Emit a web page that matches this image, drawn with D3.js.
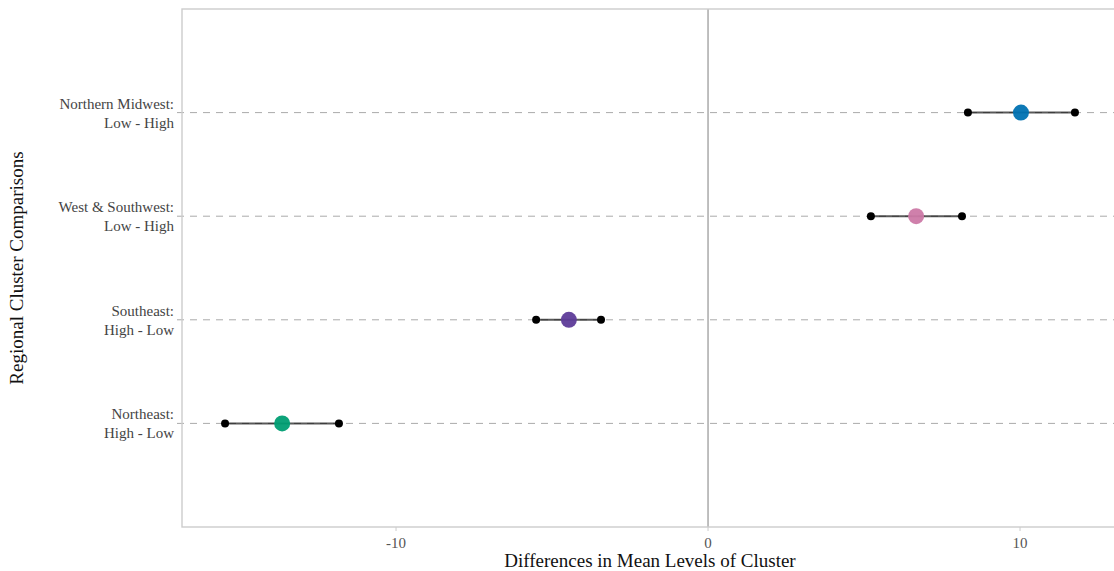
<!DOCTYPE html>
<html>
<head>
<meta charset="utf-8">
<script src="https://cdn.jsdelivr.net/npm/d3@7"></script>
<style>
  body { margin: 0; background: #fff; }
  text { font-family: "Liberation Serif", "DejaVu Serif", serif; }
</style>
</head>
<body>
<svg id="chart"></svg>
<script>
// Data
const labels = [
  ["Northeast:", "High - Low"],
  ["Southeast:", "High - Low"],
  ["West & Southwest:", "Low - High"],
  ["Northern Midwest:", "Low - High"]
];
const means = [-13.65, -4.46, 6.67, 10.03];
const lowers = [-15.48, -5.51, 5.22, 8.33];
const uppers = [-11.83, -3.43, 8.14, 11.76];
const colors = ["#009E73", "#5E3C99", "#CC79A7", "#0072B2"];
const xTicks = [-10, 0, 10];

const width = 1114, height = 571;
const svg = d3.select("#chart").attr("width", width).attr("height", height);

// Panel area
const pLeft = 182, pRight = 1118, pTop = 9, pBottom = 527;

const x = d3.scaleLinear().domain([-16.86, 13.14]).range([pLeft, pRight]);
// positions 1..4 with one unit padding on each side
const y = d3.scaleLinear().domain([0, 5]).range([pBottom, pTop]);

const rows = labels.map((l, i) => ({
  label: l, mean: means[i], lo: lowers[i], hi: uppers[i], color: colors[i], pos: i + 1
}));

// Dashed horizontal guide lines
svg.selectAll(".guide")
  .data(rows)
  .enter()
  .append("line")
  .attr("x1", pLeft - 5)
  .attr("x2", pRight)
  .attr("y1", d => y(d.pos))
  .attr("y2", d => y(d.pos))
  .attr("stroke", "#aaa")
  .attr("stroke-width", 1)
  .attr("stroke-dasharray", "7,6");

// Zero reference line
svg.append("line")
  .attr("x1", x(0)).attr("x2", x(0))
  .attr("y1", pTop).attr("y2", pBottom)
  .attr("stroke", "#aaa")
  .attr("stroke-width", 1.5);

// Panel border
svg.append("rect")
  .attr("x", pLeft).attr("y", pTop)
  .attr("width", pRight - pLeft).attr("height", pBottom - pTop)
  .attr("fill", "none")
  .attr("stroke", "#ccc")
  .attr("stroke-width", 1.4);

// X axis ticks and labels
const xAxis = svg.append("g");
xAxis.selectAll(".tick")
  .data(xTicks)
  .enter()
  .append("line")
  .attr("x1", d => x(d)).attr("x2", d => x(d))
  .attr("y1", pBottom).attr("y2", pBottom + 4)
  .attr("stroke", "#ccc");
xAxis.selectAll(".tlabel")
  .data(xTicks)
  .enter()
  .append("text")
  .attr("x", d => x(d))
  .attr("y", pBottom + 21)
  .attr("text-anchor", "middle")
  .attr("font-size", 15)
  .attr("fill", "#555")
  .text(d => d);

// Y category labels (two lines each)
const yLab = svg.selectAll(".ylab")
  .data(rows)
  .enter()
  .append("text")
  .attr("text-anchor", "end")
  .attr("font-size", 15)
  .attr("fill", "#444");
yLab.append("tspan")
  .attr("x", 174)
  .attr("y", d => y(d.pos) - 4)
  .text(d => d.label[0]);
yLab.append("tspan")
  .attr("x", 174)
  .attr("y", d => y(d.pos) + 15)
  .text(d => d.label[1]);

// Interval segments
svg.selectAll(".seg")
  .data(rows)
  .enter()
  .append("line")
  .attr("x1", d => x(d.lo)).attr("x2", d => x(d.hi))
  .attr("y1", d => y(d.pos)).attr("y2", d => y(d.pos))
  .attr("stroke", "#000")
  .attr("stroke-opacity", 0.65)
  .attr("stroke-width", 2);

// Endpoint dots
svg.selectAll(".lo")
  .data(rows)
  .enter()
  .append("circle")
  .attr("cx", d => x(d.lo)).attr("cy", d => y(d.pos))
  .attr("r", 4).attr("fill", "#000");
svg.selectAll(".hi")
  .data(rows)
  .enter()
  .append("circle")
  .attr("cx", d => x(d.hi)).attr("cy", d => y(d.pos))
  .attr("r", 4).attr("fill", "#000");

// Mean points
svg.selectAll(".mean")
  .data(rows)
  .enter()
  .append("circle")
  .attr("cx", d => x(d.mean)).attr("cy", d => y(d.pos))
  .attr("r", 8)
  .attr("fill", d => d.color)
  .attr("fill-opacity", 0.95);

// Axis titles
svg.append("text")
  .attr("x", (pLeft + pRight) / 2)
  .attr("y", 567)
  .attr("text-anchor", "middle")
  .attr("font-size", 19)
  .attr("fill", "#111")
  .text("Differences in Mean Levels of Cluster");

svg.append("text")
  .attr("transform", `translate(23,${(pTop + pBottom) / 2}) rotate(-90)`)
  .attr("text-anchor", "middle")
  .attr("font-size", 19)
  .attr("fill", "#111")
  .text("Regional Cluster Comparisons");
</script>
</body>
</html>
